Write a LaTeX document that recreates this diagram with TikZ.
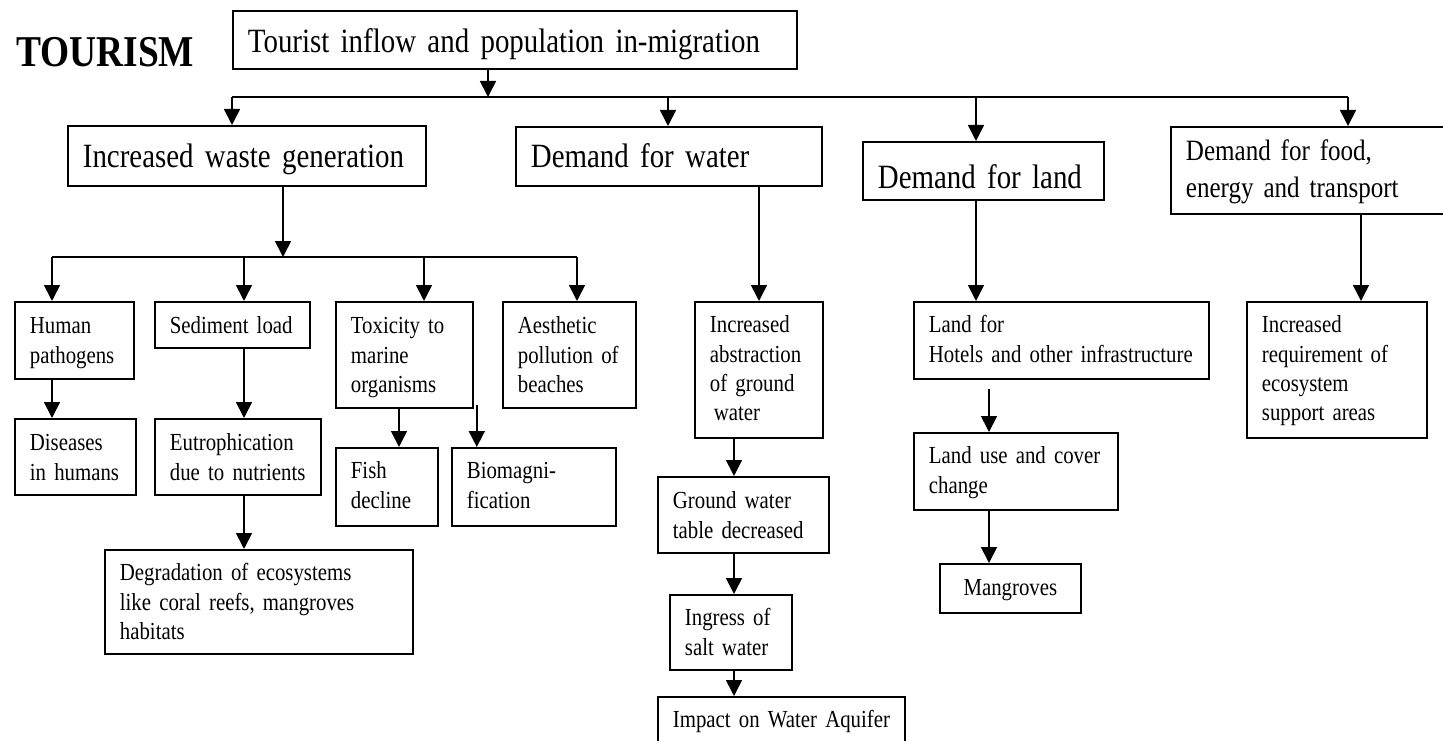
\documentclass[tikz,border=0pt]{standalone}
\usepackage{fontspec}
\setmainfont{Liberation Serif}[FakeStretch=0.85]
\usetikzlibrary{arrows.meta}
\newcommand\bigf{\fontsize{34}{40}\selectfont}
\newcommand\foodf{\fontsize{29.5}{37}\selectfont}
\newcommand\smf{\fontsize{24.5}{29.3}\selectfont}
\hyphenpenalty=10000
\exhyphenpenalty=10000
\begin{document}
\begin{tikzpicture}[x=1pt,y=-1pt,
  box/.style={draw, line width=1.8pt, anchor=north west, inner xsep=15pt, inner ysep=0pt, align=left, font=\smf,
    execute at begin node={\hyphenpenalty=10000\exhyphenpenalty=10000}},
  dims/.style n args={3}{text width=#1, text height=#2, text depth=#3},
  arr/.style={-{Triangle[width=16pt,length=16pt]}, line width=1.7pt},
  ln/.style={line width=1.7pt}]
\clip (0,0) rectangle (1443,741);
\node[anchor=base west, font=\bfseries\fontsize{44}{50}\selectfont, inner sep=0pt] (title) at (16,67) {TOURISM};
% level 1
\node[box, font=\bigf, dims={534pt}{42pt}{16pt}] (top) at (232,10) {Tourist~inflow~and~population~in-migration};
% level 2
\node[box, font=\bigf, dims={328pt}{42pt}{18pt}] (waste) at (67,125) {Increased~waste~generation};
\node[box, font=\bigf, dims={276pt}{41pt}{18pt}] (water) at (515,126) {Demand~for~water};
\node[box, font=\bigf, dims={211pt}{47pt}{11pt}] (land) at (862,141) {Demand~for~land};
\node[box, font=\foodf, dims={260pt}{34pt}{53pt}] (food) at (1170,126) {Demand~for~food,\\energy~and~transport};
% level 3
\node[box, dims={89pt}{32pt}{45pt}] (human) at (14,301) {Human\\pathogens};
\node[box, dims={125pt}{32pt}{14pt}] (sed) at (154,301) {Sediment~load};
\node[box, dims={107pt}{32pt}{74pt}] (tox) at (335,301) {Toxicity~to\\marine\\organisms};
\node[box, dims={103pt}{32pt}{74pt}] (aes) at (502,301) {Aesthetic\\pollution~of\\beaches};
\node[box, dims={98pt}{31pt}{105pt}] (abs) at (694,301) {Increased\\abstraction\\of~ground\\\hspace{4pt}water};
\node[box, dims={265pt}{31pt}{46pt}] (landfor) at (913,301) {Land~for\\Hotels~and~other~infrastructure};
\node[box, dims={150pt}{31pt}{105pt}] (eco) at (1246,301) {Increased\\requirement~of\\ecosystem\\support~areas};
% level 4
\node[box, dims={91pt}{32pt}{44pt}] (dis) at (14,418) {Diseases\\in~humans};
\node[box, dims={136pt}{32pt}{44pt}] (eutro) at (154,418) {Eutrophication\\due~to~nutrients};
\node[box, dims={72pt}{31pt}{47pt}] (fish) at (335,447) {Fish\\decline};
\node[box, dims={134pt}{31pt}{47pt}] (bio) at (451,447) {Biomagni-\\fication};
\node[box, dims={174pt}{31pt}{46pt}] (landuse) at (913,432) {Land~use~and~cover\\change};
\node[box, dims={278pt}{31pt}{73pt}] (degr) at (104,549) {Degradation~of~ecosystems\\like~coral~reefs,~mangroves\\habitats};
\node[box, dims={141pt}{32pt}{44pt}] (gw) at (657,476) {Ground~water\\table~decreased};
\node[box, dims={92pt}{31pt}{44pt}] (ingress) at (669,594) {Ingress~of\\salt~water};
\node[box, dims={217pt}{31pt}{29pt}] (impact) at (657,696) {Impact~on~Water~Aquifer};
\node[box, align=center, dims={111pt}{32pt}{17pt}] (mang) at (939,563) {Mangroves};
% connectors: top level
\coordinate (hub) at (488,97);
\draw[arr] (hub |- top.south) -- (hub);
\coordinate (b1) at (232,97);
\coordinate (b2) at (668,97);
\coordinate (b3) at (976,97);
\coordinate (b4) at (1348,97);
\draw[ln] (b1) -- (b4);
\draw[arr] (b1) -- (b1 |- waste.north);
\draw[arr] (b2) -- (b2 |- water.north);
\draw[arr] (b3) -- (b3 |- land.north);
\draw[arr] (b4) -- (b4 |- food.north);
% waste branch
\coordinate (w0) at (283,257);
\draw[arr] (w0 |- waste.south) -- (w0);
\coordinate (c1) at (52,257);
\coordinate (c2) at (244,257);
\coordinate (c3) at (424,257);
\coordinate (c4) at (577,257);
\draw[ln] (c1) -- (c4);
\draw[arr] (c1) -- (c1 |- human.north);
\draw[arr] (c2) -- (c2 |- sed.north);
\draw[arr] (c3) -- (c3 |- tox.north);
\draw[arr] (c4) -- (c4 |- aes.north);
\draw[arr] (c1 |- human.south) -- (c1 |- dis.north);
\draw[arr] (c2 |- sed.south) -- (c2 |- eutro.north);
\draw[arr] (c2 |- eutro.south) -- (c2 |- degr.north);
\coordinate (f) at ([xshift=64pt]tox.south west);
\draw[arr] (f) -- (f |- fish.north);
\coordinate (g) at ([xshift=3pt,yshift=4pt]tox.south east);
\draw[arr] (g) -- (g |- bio.north);
% water branch
\coordinate (h) at ([xshift=244pt]water.south west);
\draw[arr] (h) -- (h |- abs.north);
\coordinate (k) at ([xshift=40pt]abs.south west);
\draw[arr] (k) -- (k |- gw.north);
\draw[arr] (k |- gw.south) -- (k |- ingress.north);
\draw[arr] (k |- ingress.south) -- (k |- impact.north);
% land branch
\draw[arr] (b3 |- land.south) -- (b3 |- landfor.north);
\coordinate (m) at ([xshift=76pt,yshift=-9pt]landfor.south west);
\draw[arr] (m) -- (m |- landuse.north);
\draw[arr] (m |- landuse.south) -- (m |- mang.north);
% food branch
\coordinate (n) at ([xshift=191pt]food.south west);
\draw[arr] (n) -- (n |- eco.north);
\end{tikzpicture}
\end{document}
